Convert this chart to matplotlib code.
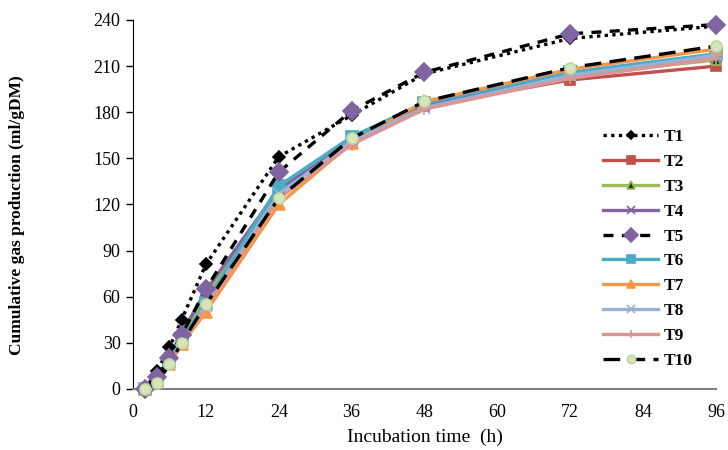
import matplotlib
matplotlib.use("Agg")
import matplotlib.pyplot as plt

plt.rcParams['font.family'] = ['Liberation Serif', 'DejaVu Serif']

times = [2, 4, 6, 8, 12, 24, 36, 48, 72, 96]
T1 = [0, 12, 27, 45, 81, 151, 178, 205, 228, 236]
T2 = [0, 6, 18, 33, 58, 128, 162, 184, 201, 210]
T3 = [0, 6, 19, 34, 60, 129, 162, 185, 204, 214]
T4 = [0, 7, 21, 36, 64, 130, 161, 184, 205, 216]
T5 = [0, 8, 20, 35, 65, 141, 181, 206, 231, 237]
T6 = [0, 6, 18, 32, 56, 132, 164, 186, 206, 218]
T7 = [0, 5, 16, 29, 50, 120, 160, 187, 208, 221]
T8 = [0, 6, 17, 31, 54, 127, 161, 183, 204, 217]
T9 = [0, 5, 16, 30, 53, 124, 159, 182, 202, 215]
T10 = [0, 4, 16, 30, 55, 124, 163, 187, 209, 223]

labels = ['T1', 'T2', 'T3', 'T4', 'T5', 'T6', 'T7', 'T8', 'T9', 'T10']
series = [T1, T2, T3, T4, T5, T6, T7, T8, T9, T10]
xticks = [0, 12, 24, 36, 48, 60, 72, 84, 96]
yticks = [0, 30, 60, 90, 120, 150, 180, 210, 240]

styles = [
    dict(color='black', ls=(0, (1, 1.3)), marker='D', mfc='black', mec='black', ms=6),
    dict(color='#C0504D', ls='-', marker='s', mfc='#C0504D', mec='#C0504D', ms=7),
    dict(color='#9BBB59', ls='-', marker='^', mfc='#1f3a10', mec='#9BBB59', ms=7),
    dict(color='#8064A2', ls='-', marker='x', mfc='#8064A2', mec='#8064A2', ms=7),
    dict(color='black', ls=(0, (3, 2.5)), marker='D', mfc='#8064A2', mec='#8064A2', ms=9),
    dict(color='#4BACC6', ls='-', marker='s', mfc='#4BACC6', mec='#4BACC6', ms=8),
    dict(color='#F79646', ls='-', marker='^', mfc='#F79646', mec='#F79646', ms=8),
    dict(color='#95B3D7', ls='-', marker='x', mfc='#95B3D7', mec='#95B3D7', ms=8),
    dict(color='#D99694', ls='-', marker='+', mfc='#D99694', mec='#D99694', ms=8),
    dict(color='black', ls=(0, (5, 2.5)), marker='o', mfc='#D7E4BD', mec='#C3D69B', ms=8),
]

fig = plt.figure(figsize=(7.28, 4.5), dpi=100)
ax = fig.add_axes([0.1827, 0.1356, 0.8008, 0.82])

order = [1, 2, 3, 5, 6, 7, 8, 0, 4, 9]
handles = [None] * 10
for i in order:
    st = styles[i]
    h, = ax.plot(times, series[i], color=st['color'], linestyle=st['ls'], lw=2.4,
                 marker=st['marker'], markerfacecolor=st['mfc'],
                 markeredgecolor=st['mec'], markersize=st['ms'],
                 markeredgewidth=1.2, label=labels[i], zorder=3 + (i in (0, 4, 9)),
                 clip_on=False)
    handles[i] = h

ax.set_xlim(0, 96)
ax.set_ylim(0, 240)
ax.set_xticks(xticks)
ax.set_yticks(yticks)
ax.tick_params(axis='x', length=0, pad=11, labelsize=13)
ax.tick_params(axis='y', length=5, width=1, direction='out', labelsize=13, pad=4)
for s in ('top', 'right'):
    ax.spines[s].set_visible(False)
ax.spines['left'].set_color('black')
ax.spines['bottom'].set_color('#808080')
ax.spines['bottom'].set_linewidth(1.5)

ax.set_xlabel('Incubation time  (h)', fontsize=14, labelpad=5)
ax.set_ylabel('Cumulative gas production (ml/gDM)', fontsize=12.5, fontweight='bold')
ax.yaxis.set_label_coords(-0.185, 0.47)

leg = fig.legend(handles=handles, labels=labels, loc='upper left',
                 bbox_to_anchor=(0.828, 0.713), frameon=False,
                 borderaxespad=0, borderpad=0,
                 handlelength=3.2, handletextpad=0.3, labelspacing=0.5,
                 prop={'weight': 'bold', 'size': 12.5}, markerscale=0.75)

fig.savefig('out.png', dpi=100)
